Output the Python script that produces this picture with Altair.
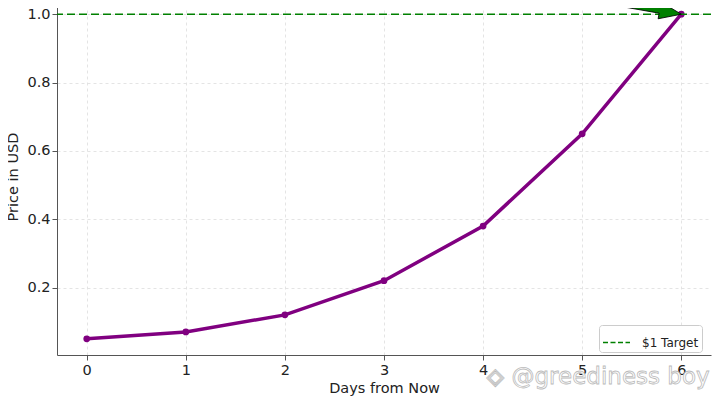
import altair as alt
import pandas as pd

# price path over the coming days
days = [0, 1, 2, 3, 4, 5, 6]
price = [0.05, 0.07, 0.12, 0.22, 0.38, 0.65, 1.0]

# target line + annotation arrow
target_label = ["$1 Target"]
target_price = [1.0]
arrow_day = [6]
arrow_price = [1.0]

# watermark
mark_text_value = ["\u25c8 @greediness boy"]
mark_day = [5.16]
mark_price = [-0.063]

df = pd.DataFrame({"Days": days, "Price": price})
df_target = pd.DataFrame({"label": target_label, "Price": target_price})
df_arrow = pd.DataFrame({"Days": arrow_day, "Price": arrow_price})
df_mark = pd.DataFrame({"txt": mark_text_value, "Days": mark_day, "Price": mark_price})

x_scale = alt.Scale(domain=[-0.3, 6.3], nice=False, zero=False)
y_scale = alt.Scale(domain=[0.0025, 1.0475], nice=False, zero=False)

x_enc = alt.X("Days:Q", scale=x_scale, title="Days from Now",
              axis=alt.Axis(values=days, format="d"))
y_enc = alt.Y("Price:Q", scale=y_scale, title="Price in USD",
              axis=alt.Axis(values=[0.2, 0.4, 0.6, 0.8, 1.0], format=".1f"))

linha = alt.Chart(df).mark_line(color="#800080", strokeWidth=3.5).encode(x=x_enc, y=y_enc)
pontos = alt.Chart(df).mark_circle(color="#800080", size=45, opacity=1).encode(x="Days:Q", y="Price:Q")

alvo = alt.Chart(df_target).mark_rule(strokeDash=[8, 4], strokeWidth=1.6).encode(
    y="Price:Q",
    color=alt.Color("label:N", scale=alt.Scale(domain=target_label, range=["#008000"]),
                    legend=alt.Legend(title=None, orient="none", legendX=542, legendY=327,
                                      symbolType="stroke", symbolDash=[5, 2.5],
                                      symbolStrokeWidth=1.6, symbolSize=729,
                                      labelFont="DejaVu Sans", labelFontSize=12,
                                      labelColor="#222", labelOffset=11,
                                      fillColor="white", strokeColor="#ccc",
                                      cornerRadius=3, padding=3)),
)

# arrow drawn as a custom symbol, tip at (6, 1.0)
seta_path = "M0,0 L-2.2,-0.85 L-2.2,-0.28 L-20,-0.28 L-20,0.28 L-2.2,0.28 L-2.2,0.85 Z"
seta = alt.Chart(df_arrow).mark_point(
    shape=seta_path, size=400, angle=10, filled=True,
    fill="#008000", stroke="black", strokeWidth=0.8, opacity=1,
).encode(x="Days:Q", y="Price:Q")

marca = alt.Chart(df_mark).mark_text(
    fontSize=23, fill="white", stroke="#bbb", strokeWidth=0.8, font="DejaVu Sans",
).encode(x="Days:Q", y="Price:Q", text="txt:N")

chart = alt.layer(linha, pontos, alvo, seta, marca).properties(
    width=654, height=357,
    autosize=alt.AutoSizeParams(type="none"),
    padding={"left": 49, "top": -10, "right": 1, "bottom": 41},
).configure_view(stroke=None).configure_axis(
    labelFont="DejaVu Sans", titleFont="DejaVu Sans",
    labelFontSize=14.5, titleFontSize=14.5, titleFontWeight="normal",
    labelColor="#222", titleColor="#222",
    domainColor="#555", tickColor="#555", tickSize=5,
    gridColor="#ddd", gridDash=[3, 3], gridWidth=0.8,
).configure_axisX(titlePadding=5, labelPadding=3).configure_axisY(titlePadding=6, labelPadding=2)

chart.save("out.html", embed_options={"renderer": "svg", "actions": False})
